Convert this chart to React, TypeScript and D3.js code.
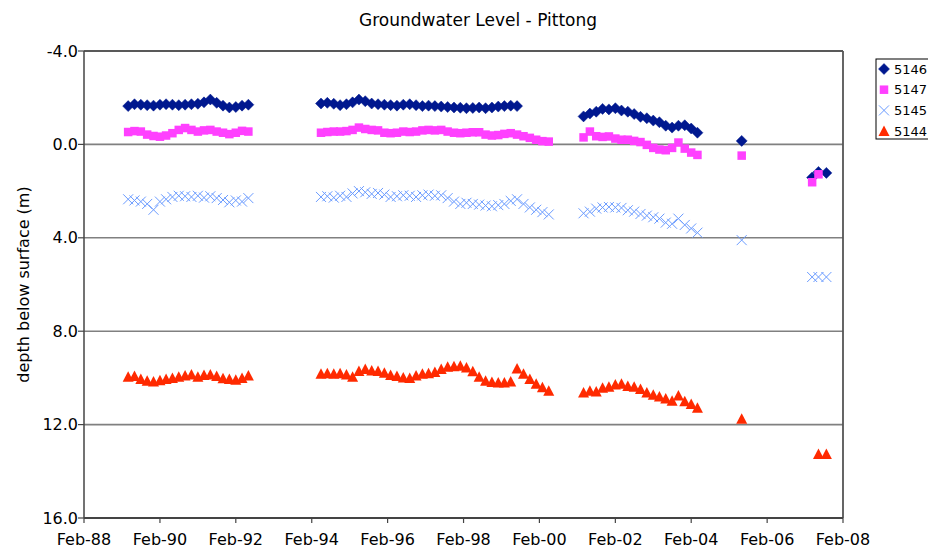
import React from "react";
import * as d3 from "d3";

const seriesNames = ["5146", "5147", "5145", "5144"];
const seriesColors = ["#00188F", "#FF40FF", "#6A9BFF", "#FF2A00"];

const yTicks = [-4, 0, 4, 8, 12, 16];

const seg1Dates = [
  "1989-04", "1989-06", "1989-08", "1989-10", "1989-12",
  "1990-02", "1990-04", "1990-06", "1990-08", "1990-10", "1990-12",
  "1991-02", "1991-04", "1991-06", "1991-08", "1991-10", "1991-12",
  "1992-02", "1992-04", "1992-06",
];
const seg2Dates = [
  "1994-05", "1994-07", "1994-09", "1994-11",
  "1995-01", "1995-03", "1995-05", "1995-07", "1995-09", "1995-11",
  "1996-01", "1996-03", "1996-05", "1996-07", "1996-09", "1996-11",
  "1997-01", "1997-03", "1997-05", "1997-07", "1997-09", "1997-11",
  "1998-01", "1998-03", "1998-05", "1998-07", "1998-09", "1998-11",
  "1999-01", "1999-03", "1999-05", "1999-07", "1999-09", "1999-11",
  "2000-01", "2000-03", "2000-05",
];
const seg3Dates = [
  "2001-04", "2001-06", "2001-08", "2001-10", "2001-12",
  "2002-02", "2002-04", "2002-06", "2002-08", "2002-10", "2002-12",
  "2003-02", "2003-04", "2003-06", "2003-08", "2003-10", "2003-12",
  "2004-02", "2004-04",
];

// 5146
const s5146a = [-1.64, -1.72, -1.7, -1.68, -1.66, -1.7, -1.72, -1.7, -1.68, -1.7, -1.72, -1.74, -1.8, -1.92, -1.78, -1.66, -1.58, -1.6, -1.66, -1.7];
const s5146b = [-1.75, -1.78, -1.74, -1.68, -1.72, -1.8, -1.92, -1.85, -1.75, -1.72, -1.7, -1.68, -1.66, -1.7, -1.72, -1.68, -1.64, -1.66, -1.64, -1.62, -1.6, -1.58, -1.57, -1.55, -1.56, -1.58, -1.55, -1.58, -1.62, -1.64, -1.66, -1.64];
const s5146c = [-1.2, -1.32, -1.4, -1.52, -1.5, -1.55, -1.45, -1.4, -1.3, -1.18, -1.12, -1.02, -0.95, -0.8, -0.72, -0.8, -0.82, -0.68, -0.5];
const s5146late: [string, number][] = [["2005-06-01", -0.15], ["2007-04-10", 1.42], ["2007-06-10", 1.18], ["2007-08-25", 1.22]];

// 5147
const s5147a = [-0.53, -0.57, -0.55, -0.42, -0.36, -0.33, -0.38, -0.48, -0.62, -0.7, -0.62, -0.55, -0.6, -0.62, -0.55, -0.5, -0.44, -0.5, -0.58, -0.55];
const s5147b = [-0.5, -0.53, -0.55, -0.55, -0.57, -0.62, -0.72, -0.66, -0.62, -0.6, -0.5, -0.48, -0.5, -0.55, -0.53, -0.55, -0.6, -0.62, -0.6, -0.62, -0.55, -0.5, -0.48, -0.5, -0.52, -0.52, -0.42, -0.38, -0.4, -0.45, -0.48, -0.42, -0.35, -0.28, -0.2, -0.14, -0.12];
const s5147c = [-0.3, -0.55, -0.35, -0.32, -0.34, -0.25, -0.2, -0.2, -0.15, -0.1, 0.02, 0.15, 0.22, 0.25, 0.15, -0.08, 0.18, 0.35, 0.45];
const s5147late: [string, number][] = [["2005-06-01", 0.48], ["2007-04-10", 1.62], ["2007-06-10", 1.28]];

// 5145
const s5145a = [2.35, 2.4, 2.45, 2.55, 2.8, 2.45, 2.35, 2.25, 2.2, 2.22, 2.25, 2.2, 2.28, 2.22, 2.3, 2.38, 2.48, 2.4, 2.45, 2.3];
const s5145b = [2.25, 2.22, 2.28, 2.2, 2.25, 2.1, 2.0, 2.05, 2.12, 2.08, 2.15, 2.25, 2.22, 2.18, 2.2, 2.25, 2.18, 2.15, 2.2, 2.18, 2.3, 2.45, 2.55, 2.5, 2.55, 2.58, 2.62, 2.65, 2.6, 2.55, 2.42, 2.35, 2.55, 2.7, 2.8, 2.9, 3.0];
const s5145c = [2.95, 2.88, 2.75, 2.7, 2.68, 2.7, 2.72, 2.82, 2.88, 2.98, 3.05, 3.12, 3.18, 3.35, 3.4, 3.18, 3.45, 3.6, 3.78];
const s5145late: [string, number][] = [["2005-06-01", 4.1], ["2007-04-10", 5.68], ["2007-06-10", 5.68], ["2007-08-25", 5.68]];

// 5144
const s5144a = [9.95, 9.92, 10.05, 10.12, 10.15, 10.1, 10.05, 10.0, 9.95, 9.9, 9.85, 9.95, 9.88, 9.85, 9.92, 10.02, 10.05, 10.08, 10.0, 9.9];
const s5144b = [9.82, 9.8, 9.82, 9.8, 9.85, 9.95, 9.7, 9.62, 9.68, 9.7, 9.78, 9.88, 9.92, 9.98, 10.0, 9.9, 9.82, 9.8, 9.75, 9.62, 9.52, 9.5, 9.48, 9.55, 9.72, 9.95, 10.12, 10.18, 10.2, 10.2, 10.15, 9.6, 9.82, 10.05, 10.25, 10.4, 10.55];
const s5144c = [10.62, 10.55, 10.58, 10.42, 10.38, 10.28, 10.25, 10.35, 10.38, 10.48, 10.62, 10.72, 10.8, 10.88, 10.98, 10.75, 11.0, 11.12, 11.28];
const s5144late: [string, number][] = [["2005-06-01", 11.75], ["2007-06-10", 13.26], ["2007-08-25", 13.26]];

const parseDay = d3.timeParse("%Y-%m-%d");
const parse = (s: string) => parseDay(s.length === 7 ? s + "-01" : s) as Date;

type Pt = { date: Date; value: number };
const zip = (dates: string[], vals: number[]): Pt[] =>
  vals.map((v, i) => ({ date: parse(dates[i]), value: v }));
const build = (a: number[], b: number[], c: number[], late: [string, number][]): Pt[] => [
  ...zip(seg1Dates, a),
  ...zip(seg2Dates, b),
  ...zip(seg3Dates, c),
  ...late.map(([d, v]) => ({ date: parse(d), value: v })),
];

const allSeries: Pt[][] = [
  build(s5146a, s5146b, s5146c, s5146late),
  build(s5147a, s5147b, s5147c, s5147late),
  build(s5145a, s5145b, s5145c, s5145late),
  build(s5144a, s5144b, s5144c, s5144late),
];

const FONT = "'DejaVu Sans', Verdana, sans-serif";

function Marker({ kind, x, y, color }: { kind: number; x: number; y: number; color: string }) {
  if (kind === 0) {
    const r = 5.5;
    return <path d={`M${x},${y - r}L${x + r},${y}L${x},${y + r}L${x - r},${y}Z`} fill={color} stroke={color} strokeWidth={0.5} />;
  }
  if (kind === 1) {
    const s = 8.5;
    return <rect x={x - s / 2} y={y - s / 2} width={s} height={s} fill={color} />;
  }
  if (kind === 2) {
    const r = 5;
    return (
      <path
        d={`M${x - r},${y - r}L${x + r},${y + r}M${x - r},${y + r}L${x + r},${y - r}`}
        stroke={color}
        strokeWidth={1}
        fill="none"
      />
    );
  }
  const w = 5.5, h = 10;
  return <path d={`M${x},${y - h / 2 - 0.5}L${x + w},${y + h / 2}L${x - w},${y + h / 2}Z`} fill={color} />;
}

export default function App() {
  const left = 84, right = 843, top = 51, bottom = 518;
  const x = d3.scaleTime().domain([new Date(1988, 1, 1), new Date(2008, 1, 1)]).range([left, right]);
  const y = d3.scaleLinear().domain([-4, 16]).range([top, bottom]);
  const xTicks = d3.range(0, 11).map((i) => new Date(1988 + i * 2, 1, 1));
  const fmtX = d3.timeFormat("%b-%y");
  const fmtY = (v: number) => d3.format(".1f")(v).replace("\u2212", "-");

  return (
    <svg width={928} height={550} style={{ position: "absolute", left: 0, top: 0, display: "block" }} fontFamily={FONT}>
      <rect width={928} height={550} fill="#fff" />
      <text x={478} y={26} textAnchor="middle" fontSize={17} fill="#000">
        Groundwater Level - Pittong
      </text>

      {/* gridlines */}
      {yTicks.slice(1, -1).map((t) => (
        <line key={t} x1={left} x2={right} y1={y(t)} y2={y(t)} stroke="#808080" strokeWidth={1.6} />
      ))}

      {/* plot border top/right */}
      <line x1={left} x2={right} y1={top} y2={top} stroke="#222" strokeWidth={1.5} />
      <line x1={right} x2={right} y1={top} y2={bottom} stroke="#555" strokeWidth={1.8} />

      {/* y axis */}
      <line x1={left} x2={left} y1={top} y2={bottom} stroke="#444" strokeWidth={1.5} />
      {yTicks.map((t) => (
        <g key={t}>
          <line x1={left - 6} x2={left} y1={y(t)} y2={y(t)} stroke="#444" strokeWidth={1.2} />
          <text x={left - 6} y={y(t)} dy="0.35em" textAnchor="end" fontSize={16} fill="#000">
            {fmtY(t)}
          </text>
        </g>
      ))}
      <text
        transform={`translate(23,${(top + bottom) / 2}) rotate(-90)`}
        textAnchor="middle"
        dy="0.35em"
        fontSize={16}
        fill="#000"
      >
        depth below surface (m)
      </text>

      {/* x axis */}
      <line x1={left} x2={right} y1={bottom} y2={bottom} stroke="#444" strokeWidth={1.8} />
      {xTicks.map((t, i) => (
        <g key={i}>
          <line x1={x(t)} x2={x(t)} y1={bottom} y2={bottom + 5} stroke="#444" strokeWidth={1.2} />
          <text x={x(t)} y={bottom + 27} textAnchor="middle" fontSize={16} fill="#000">
            {fmtX(t)}
          </text>
        </g>
      ))}

      {/* series */}
      {allSeries.map((pts, si) => (
        <g key={si}>
          {pts.map((p, i) => (
            <Marker key={i} kind={si} x={x(p.date)} y={y(p.value)} color={seriesColors[si]} />
          ))}
        </g>
      ))}

      {/* legend */}
      <rect x={876} y={59} width={80} height={80} fill="#fff" stroke="#000" strokeWidth={1} />
      {seriesNames.map((n, i) => {
        const ly = 69 + i * 20.7;
        return (
          <g key={n}>
            <Marker kind={i} x={884} y={ly} color={seriesColors[i]} />
            <text x={894} y={ly} dy="0.35em" fontSize={13} fill="#000">
              {n}
            </text>
          </g>
        );
      })}
    </svg>
  );
}
